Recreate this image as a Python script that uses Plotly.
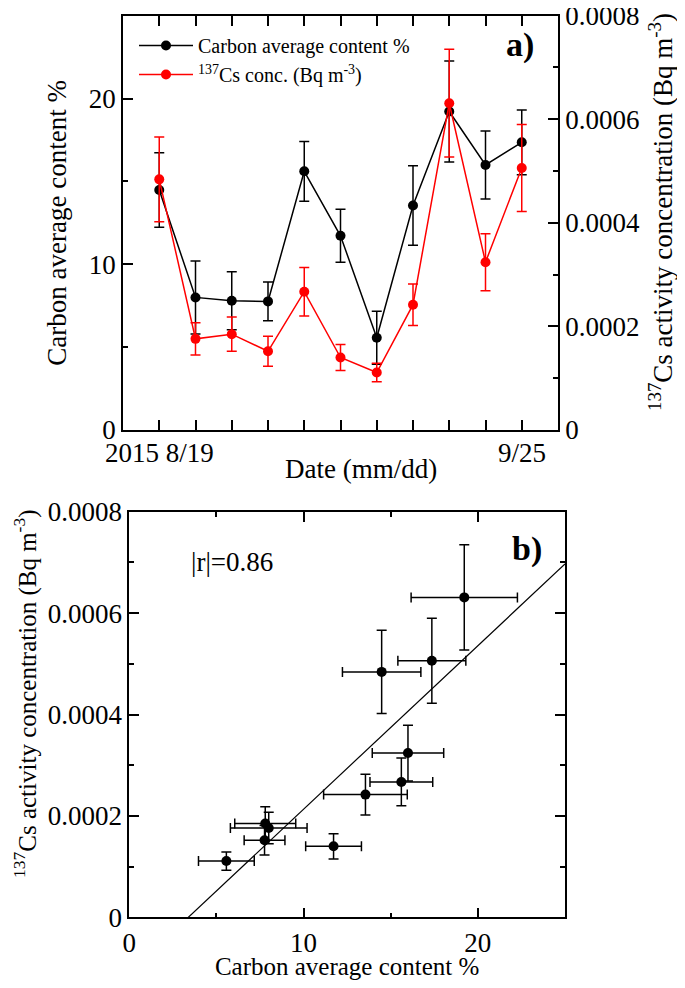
import numpy as np
import plotly.graph_objects as go

# ---------------- data ----------------
sample_index = list(range(1, 12))
date_labels = ["2015 8/19", "9/25"]
date_label_pos = [1, 11]
carbon = [14.48, 8.00, 7.80, 7.76, 15.61, 11.72, 5.57, 13.55, 19.22, 15.99, 17.36]
carbon_err = [2.25, 2.2, 1.75, 1.17, 1.8, 1.6, 1.6, 2.4, 3.05, 2.05, 1.95]
cs = [4.84e-4, 1.76e-4, 1.85e-4, 1.52e-4, 2.67e-4, 1.40e-4, 1.11e-4, 2.42e-4, 6.31e-4, 3.24e-4, 5.06e-4]
cs_err = [0.82e-4, 0.31e-4, 0.33e-4, 0.29e-4, 0.47e-4, 0.25e-4, 0.18e-4, 0.40e-4, 1.04e-4, 0.55e-4, 0.84e-4]
carbon_ticks = [0, 10, 20]
cs_ticks = [0, 0.0002, 0.0004, 0.0006, 0.0008]
cs_ticktext = ["0", "0.0002", "0.0004", "0.0006", "0.0008"]
r_text = "|r|=0.86"

FONT = "Liberation Serif, Times New Roman, serif"
cs_title = "<sup>137</sup>Cs activity concentration (Bq m<sup>-3</sup>)"

# page has an 8px body margin; figure fills the rest of the 685x988 window
W, H, OFF = 685 - 16, 988 - 16, 8


def px(xp):
    return (xp - OFF) / W


def py(yp):
    return (H - (yp - OFF)) / H


slope, intercept = np.polyfit(carbon, cs, 1)
fit_x = [0, 25]
fit_y = [slope * v + intercept for v in fit_x]

fig = go.Figure()

# top panel
fig.add_trace(go.Scatter(
    x=sample_index, y=carbon, mode="lines+markers", name="Carbon average content %",
    line=dict(color="black", width=1.5), marker=dict(color="black", size=10),
    error_y=dict(type="data", array=carbon_err, color="black", thickness=1.5, width=5),
    xaxis="x", yaxis="y"))
fig.add_trace(go.Scatter(
    x=sample_index, y=cs, mode="lines+markers", name="<sup>137</sup>Cs conc. (Bq m<sup>-3</sup>)",
    line=dict(color="red", width=1.5), marker=dict(color="red", size=10),
    error_y=dict(type="data", array=cs_err, color="red", thickness=1.5, width=5),
    xaxis="x", yaxis="y2"))

# bottom panel
fig.add_trace(go.Scatter(
    x=carbon, y=cs, mode="markers", showlegend=False,
    marker=dict(color="black", size=10),
    error_x=dict(type="data", array=carbon_err, color="black", thickness=1.5, width=5),
    error_y=dict(type="data", array=cs_err, color="black", thickness=1.5, width=5),
    xaxis="x2", yaxis="y3"))
fig.add_trace(go.Scatter(
    x=fit_x, y=fit_y, mode="lines", showlegend=False,
    line=dict(color="black", width=1.2), xaxis="x2", yaxis="y3"))

ax_common = dict(showline=True, linecolor="black", linewidth=1.6, showgrid=False, zeroline=False,
                 ticks="inside", tickcolor="black", tickwidth=1.5, ticklen=10, automargin=False,
                 ticklabeloverflow="allow",
                 tickfont=dict(family=FONT, size=27, color="black"))
minor_common = dict(ticks="inside", tickcolor="black", tickwidth=1.5, ticklen=5, showgrid=False)

fig.update_layout(
    width=W, height=H, margin=dict(l=0, r=0, t=0, b=0),
    paper_bgcolor="white", plot_bgcolor="white",
    font=dict(family=FONT, size=27, color="black"),
    xaxis=dict(**ax_common, domain=[px(123), px(558)], anchor="y", range=[0, 12],
               tickmode="linear", tick0=0, dtick=5, showticklabels=False, mirror="allticks",
               minor=dict(**minor_common, tick0=0, dtick=1)),
    yaxis=dict(**ax_common, domain=[py(430), py(15.7)], anchor="x",
               range=[0, 25], tickvals=carbon_ticks,
               minor=dict(**minor_common, tick0=0, dtick=5),
               title=dict(text="Carbon average content %", font=dict(size=27), standoff=14)),
    yaxis2=dict(**ax_common, overlaying="y", side="right", anchor="x", range=[0, 0.0008],
                tickvals=cs_ticks, ticktext=cs_ticktext,
                minor=dict(**minor_common, tick0=0, dtick=0.0001)),
    xaxis2=dict(**ax_common, domain=[px(129.3), px(565)], anchor="y3", range=[0, 25],
                tickvals=carbon_ticks, mirror="allticks",
                minor=dict(**minor_common, tick0=0, dtick=5),
                title=dict(text="Carbon average content %", font=dict(size=25), standoff=16)),
    yaxis3=dict(**ax_common, domain=[py(917.3), py(511.7)], anchor="x2",
                range=[0, 0.0008], tickvals=cs_ticks, ticktext=cs_ticktext, mirror="allticks",
                minor=dict(**minor_common, tick0=0, dtick=0.0001)),
    legend=dict(x=px(134), y=py(26), xanchor="left", yanchor="top",
                bgcolor="rgba(0,0,0,0)", font=dict(family=FONT, size=20), itemwidth=54,
                tracegroupgap=0),
)

annotations = []
for lab, pos in zip(date_labels, date_label_pos):
    annotations.append(dict(x=pos, y=py(453), xref="x", yref="paper", text=lab,
                            showarrow=False, xanchor="center", yanchor="middle",
                            font=dict(family=FONT, size=27)))
annotations += [
    dict(x=px(361), y=py(469), xref="paper", yref="paper", text="Date (mm/dd)",
         showarrow=False, xanchor="center", yanchor="middle", font=dict(family=FONT, size=27)),
    dict(x=px(661), y=py(212), xref="paper", yref="paper", text=cs_title, textangle=-90,
         showarrow=False, xanchor="center", yanchor="middle", font=dict(family=FONT, size=27)),
    dict(x=px(25), y=py(694), xref="paper", yref="paper", text=cs_title, textangle=-90,
         showarrow=False, xanchor="center", yanchor="middle", font=dict(family=FONT, size=25)),
    dict(x=px(520), y=py(45), xref="paper", yref="paper", text="<b>a)</b>",
         showarrow=False, xanchor="center", yanchor="middle", font=dict(family=FONT, size=34)),
    dict(x=px(527), y=py(549), xref="paper", yref="paper", text="<b>b)</b>",
         showarrow=False, xanchor="center", yanchor="middle", font=dict(family=FONT, size=34)),
    dict(x=px(232), y=py(562), xref="paper", yref="paper", text=r_text,
         showarrow=False, xanchor="center", yanchor="middle", font=dict(family=FONT, size=27)),
]
fig.update_layout(annotations=annotations)

fig.write_html("out.html")
